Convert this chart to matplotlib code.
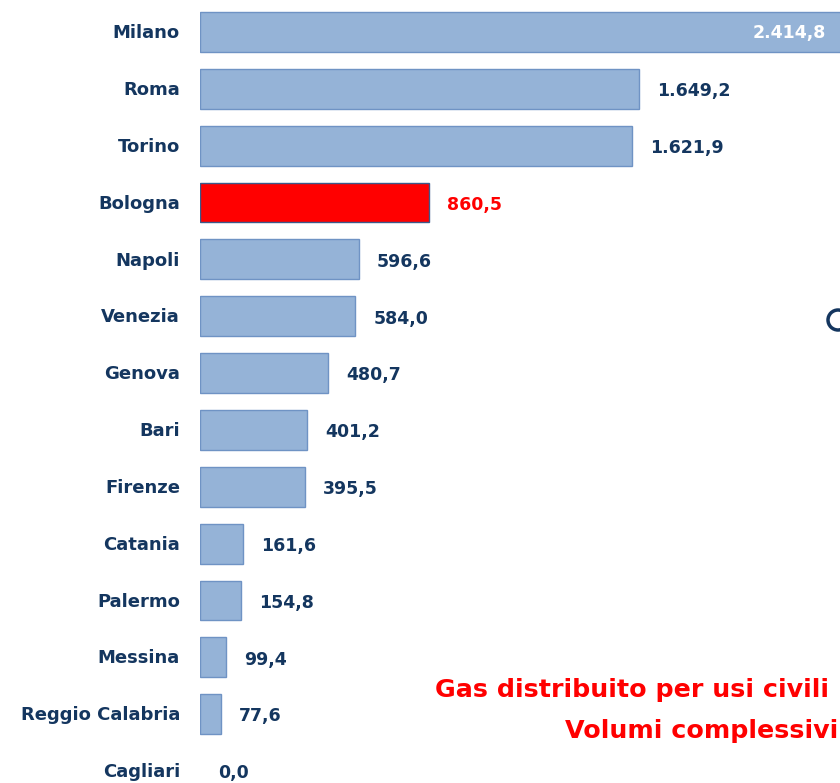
import matplotlib.pyplot as plt
from matplotlib.patches import Circle

cities = ["Milano", "Roma", "Torino", "Bologna", "Napoli", "Venezia", "Genova",
          "Bari", "Firenze", "Catania", "Palermo", "Messina", "Reggio Calabria", "Cagliari"]
values = [2414.8, 1649.2, 1621.9, 860.5, 596.6, 584.0, 480.7,
          401.2, 395.5, 161.6, 154.8, 99.4, 77.6, 0.0]
highlight = "Bologna"

navy = "#14365f"
font = ["DejaVu Sans"]

def fmt(v):
    s = f"{v:,.1f}"
    return s.replace(",", "X").replace(".", ",").replace("X", ".")

W, H = 840, 783
fig = plt.figure(figsize=(W / 100, H / 100), dpi=100)
ax = fig.add_axes([200 / W, 0, 1 - 200 / W, 1])

scale = 439 / 1649.2  # px per unit
ax.set_xlim(0, 640 / scale)
ax.set_ylim(13 + 12 / 56.85, -32 / 56.85)

colors = ["#ff0000" if c == highlight else "#95b3d7" for c in cities]
edges = ["#3c5a8a" if c == highlight else "#6f93c4" for c in cities]
lws = [1.0 if v > 0 else 0 for v in values]
ax.barh(range(len(cities)), values, height=0.70, color=colors,
        edgecolor=edges, linewidth=lws)

for i, (c, v) in enumerate(zip(cities, values)):
    if i == 0:
        ax.text(626 / scale, i + 0.02, fmt(v), ha="right", va="center", color="white",
                fontsize=12.5, fontweight="bold", family=font)
    else:
        col = "#ff0000" if c == highlight else navy
        ax.text(v + 18 / scale, i + 0.04, fmt(v), ha="left", va="center", color=col,
                fontsize=12.5, fontweight="bold", family=font)
    ax.text(-20 / scale, i + 0.02, c, ha="right", va="center", color=navy,
            fontsize=13, fontweight="bold", family=font, clip_on=False)

ax.axis("off")

fig.text(435 / W, 1 - 690 / H, "Gas distribuito per usi civili", ha="left", va="center",
         color="#ff0000", fontsize=18.3, fontweight="bold", family=font)
fig.text(838 / W, 1 - 731 / H, "Volumi complessivi", ha="right", va="center",
         color="#ff0000", fontsize=18.3, fontweight="bold", family=font)

fig.patches.append(Circle((838, H - 320), 10, transform=None, fill=False,
                          edgecolor=navy, linewidth=2.5))

fig.savefig("out.png", dpi=100)
